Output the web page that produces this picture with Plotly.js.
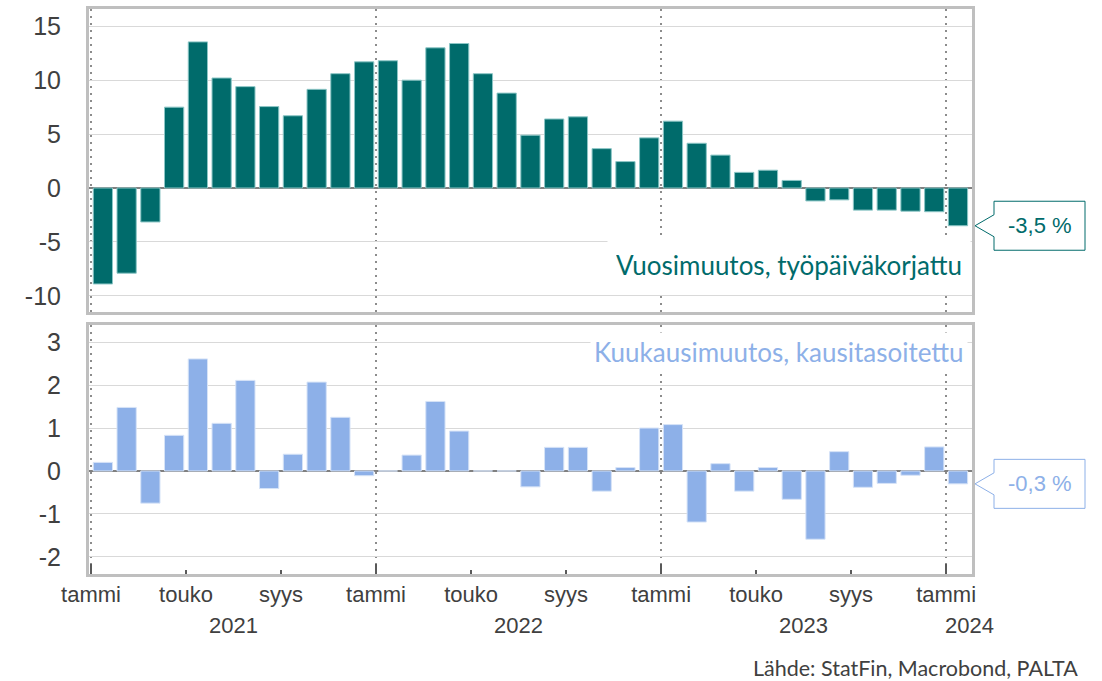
<!DOCTYPE html>
<html><head><meta charset="utf-8">
<script src="https://cdn.plot.ly/plotly-3.0.1.min.js"></script>
<style>html,body{margin:0;padding:0;background:#fff;}#chart{width:1102px;height:681px;}</style>
</head><body><div id="chart"></div>
<script>
// ---- data ----
const months = ['2021-01','2021-02','2021-03','2021-04','2021-05','2021-06','2021-07','2021-08','2021-09','2021-10','2021-11','2021-12',
  '2022-01','2022-02','2022-03','2022-04','2022-05','2022-06','2022-07','2022-08','2022-09','2022-10','2022-11','2022-12',
  '2023-01','2023-02','2023-03','2023-04','2023-05','2023-06','2023-07','2023-08','2023-09','2023-10','2023-11','2023-12',
  '2024-01'];
const yearlyChange = [-8.9,-7.9,-3.15,7.5,13.55,10.2,9.4,7.55,6.7,9.15,10.6,11.7,
  11.8,10.0,13.0,13.4,10.6,8.8,4.9,6.4,6.6,3.65,2.45,4.65,
  6.2,4.15,3.05,1.45,1.65,0.7,-1.2,-1.1,-2.05,-2.05,-2.15,-2.2,
  -3.5];
const monthlyChange = [0.2,1.48,-0.75,0.83,2.61,1.11,2.11,-0.41,0.39,2.07,1.25,-0.11,
  0.0,0.37,1.62,0.93,0.0,0.0,-0.37,0.55,0.55,-0.47,0.08,1.0,
  1.08,-1.19,0.17,-0.47,0.08,-0.66,-1.59,0.45,-0.38,-0.29,-0.1,0.56,
  -0.3];
const monthNames = {1:'tammi', 5:'touko', 9:'syys'};
const yearlyTicks = [-10,-5,0,5,10,15];
const monthlyTicks = [-2,-1,0,1,2,3];
const yearlyTitle = 'Vuosimuutos, työpäiväkorjattu';
const monthlyTitle = 'Kuukausimuutos, kausitasoitettu';
const sourceText = 'Lähde: StatFin, Macrobond, PALTA';

// ---- derived ----
const n = months.length;
const xs = months.map((m,i)=>i+0.5);
const labelTickVals = [], labelTickText = [], yearStarts = [];
months.forEach((m,i)=>{
  const mo = parseInt(m.slice(5),10);
  if (monthNames[mo]) { labelTickVals.push(i); labelTickText.push(monthNames[mo]); }
  if (mo === 1) yearStarts.push(i);
});
const years = [...new Set(months.map(m=>m.slice(0,4)))];
const yearPos = years.map(y=>{ const first = months.findIndex(m=>m.startsWith(y)); return Math.min(first+6, n); });
const fmt = v => v.toFixed(1).replace('.', ',') + ' %';

const TEAL = '#006b6b', BLUE = '#8db0e8', GRAY = '#404040';
const XR = [-0.084, 37.09];
const tickFont = {family:'"Liberation Sans", Arial, sans-serif', size:25, color:GRAY};
const xFont = {family:'"Liberation Sans", Arial, sans-serif', size:22, color:GRAY};
const calFont = (s,c)=>({family:'Lato, "Open Sans", sans-serif', size:s, color:c});

const traces = [
  {type:'bar', x:xs, y:yearlyChange, xaxis:'x', yaxis:'y', marker:{color:TEAL, line:{color:'#8cc6c6', width:1}}, hoverinfo:'y'},
  {type:'bar', x:xs, y:monthlyChange, xaxis:'x2', yaxis:'y2', marker:{color:BLUE, line:{color:'#d6e3f7', width:1}}, hoverinfo:'y'},
  {type:'scatter', x:xs, y:monthlyChange, xaxis:'x3', yaxis:'y2', mode:'none', hoverinfo:'skip', showlegend:false}
];

const xGrid = {showgrid:true, gridcolor:'#8c8c8c', griddash:'2px,5px', gridwidth:1.5};
const frame = {showline:true, linecolor:'#bfbfbf', linewidth:3, mirror:true};
const yBase = (ticks, rng, dom) => Object.assign({domain:dom, range:rng, tickvals:ticks, ticktext:ticks.map(String),
  gridcolor:'#d9d9d9', gridwidth:1, zeroline:true, zerolinecolor:'#808080', zerolinewidth:2.5,
  ticks:'', tickfont:tickFont, ticklabelstandoff:20, fixedrange:true}, frame);

const layout = {
  width:1102, height:681, showlegend:false, bargap:0.19,
  paper_bgcolor:'#fff', plot_bgcolor:'#fff',
  margin:{l:89, r:130, t:9, b:107},
  xaxis: Object.assign({anchor:'y', range:XR, tickvals:yearStarts, showticklabels:false, ticks:'', zeroline:false, fixedrange:true}, xGrid, frame),
  yaxis: yBase(yearlyTicks, [-11.5,16.6], [0.4637,1]),
  xaxis2: Object.assign({anchor:'y2', range:XR, tickvals:yearStarts, showticklabels:false, ticks:'inside', ticklen:10, tickwidth:1.5, tickcolor:'#595959', zeroline:false, fixedrange:true}, xGrid, frame),
  xaxis3: {overlaying:'x2', anchor:'y2', side:'bottom', range:XR, tickvals:labelTickVals, ticktext:labelTickText, ticks:'inside', ticklen:4, tickwidth:1.5, tickcolor:'#595959',
    showgrid:false, showline:false, zeroline:false, tickfont:xFont, ticklabelstandoff:5, fixedrange:true},
  yaxis2: yBase(monthlyTicks, [-2.4,3.4], [0,0.4407]),
  annotations: [
    {xref:'x domain', yref:'y domain', x:1, y:0.155, xanchor:'right', yanchor:'middle', xshift:-1.5, text:yearlyTitle, showarrow:false,
      width:346, height:40, align:'right', valign:'middle',
      font:calFont(26, TEAL), bgcolor:'#fff', borderpad:8},
    {xref:'x2 domain', yref:'y2 domain', x:1, y:0.89, xanchor:'right', yanchor:'middle', xshift:-4, text:monthlyTitle, showarrow:false,
      font:calFont(26, BLUE), bgcolor:'#fff', borderpad:3},
    {xref:'x domain', yref:'y', x:1, y:yearlyChange[n-1], xshift:67.5, xanchor:'center', yanchor:'middle', text:fmt(yearlyChange[n-1]), showarrow:false,
      font:{family:'"Liberation Sans", Arial, sans-serif', size:22, color:TEAL}},
    {xref:'x2 domain', yref:'y2', x:1, y:monthlyChange[n-1], xshift:67.5, xanchor:'center', yanchor:'middle', text:fmt(monthlyChange[n-1]), showarrow:false,
      font:{family:'"Liberation Sans", Arial, sans-serif', size:22, color:BLUE}},
    ...years.map((y,i)=>({xref:'x2', yref:'paper', x:yearPos[i], y:-0.092, xanchor:'center', yanchor:'middle', text:y, showarrow:false, font:xFont})),
    {xref:'paper', yref:'paper', x:1.1223, y:-0.166, xanchor:'right', yanchor:'middle', text:sourceText, showarrow:false, font:calFont(21.5, GRAY)}
  ],
  shapes: [
    {type:'path', xref:'x domain', yref:'y', xsizemode:'pixel', ysizemode:'pixel', xanchor:1, yanchor:yearlyChange[n-1],
      path:'M3,0 L22,11 L22,24.5 L113,24.5 L113,-24.5 L22,-24.5 L22,-11 Z', fillcolor:'#fff', line:{color:TEAL, width:1}, layer:'above'},
    {type:'path', xref:'x2 domain', yref:'y2', xsizemode:'pixel', ysizemode:'pixel', xanchor:1, yanchor:monthlyChange[n-1],
      path:'M3,0 L22,11 L22,24.5 L113,24.5 L113,-24.5 L22,-24.5 L22,-11 Z', fillcolor:'#fff', line:{color:BLUE, width:1}, layer:'above'}
  ]
};
Plotly.newPlot('chart', traces, layout, {staticPlot:true, displayModeBar:false});
</script></body></html>
